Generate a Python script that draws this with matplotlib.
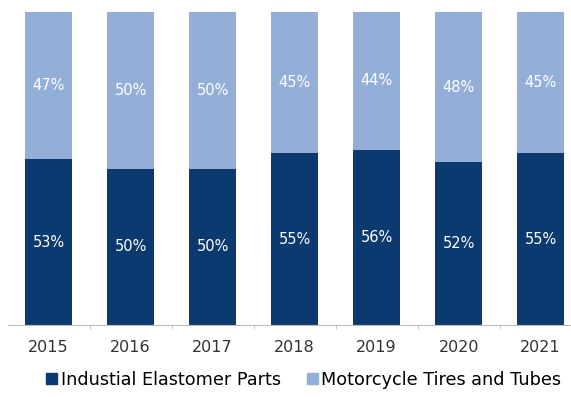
import matplotlib.pyplot as plt
import numpy as np

years = ['2015', '2016', '2017', '2018', '2019', '2020', '2021']
industrial = [53, 50, 50, 55, 56, 52, 55]
motorcycle = [47, 50, 50, 45, 44, 48, 45]
series_names = ['Industial Elastomer Parts', 'Motorcycle Tires and Tubes']

dark = '#0b3a70'
light = '#94afd7'

fig = plt.figure(figsize=(5.71, 3.97), dpi=100)
ax = fig.add_axes([0.014, 0.181, 0.986, 0.789])

x = np.arange(len(years))
width = 0.57
b1 = ax.bar(x, industrial, width, color=dark, label=series_names[0])
b2 = ax.bar(x, motorcycle, width, bottom=industrial, color=light, label=series_names[1])

ax.bar_label(b1, labels=[f'{v}%' for v in industrial], label_type='center',
             color='white', fontsize=10.5)
ax.bar_label(b2, labels=[f'{v}%' for v in motorcycle], label_type='center',
             color='white', fontsize=10.5)

ax.set_ylim(0, 100)
ax.set_xlim(-0.494, 6.37)
ax.set_yticks([])
ax.set_xticks(x)
ax.set_xticklabels(years, fontsize=11.5, color='#333333')
ax.tick_params(axis='x', length=0, pad=11)
ax.set_xticks(x[:-1] + 0.5, minor=True)
ax.tick_params(axis='x', which='minor', length=3, color='#bbbbbb')
for side in ['top', 'right', 'left']:
    ax.spines[side].set_visible(False)
ax.spines['bottom'].set_color('#bbbbbb')

handles = [plt.Rectangle((0, 0), 1, 1, color=dark), plt.Rectangle((0, 0), 1, 1, color=light)]
fig.legend(handles, series_names, loc='center', bbox_to_anchor=(0.532, 0.043), ncol=2,
           frameon=False, fontsize=12.7, handlelength=0.6, handleheight=0.6,
           handletextpad=0.2, columnspacing=1.5)

fig.savefig('out.png', dpi=100)
